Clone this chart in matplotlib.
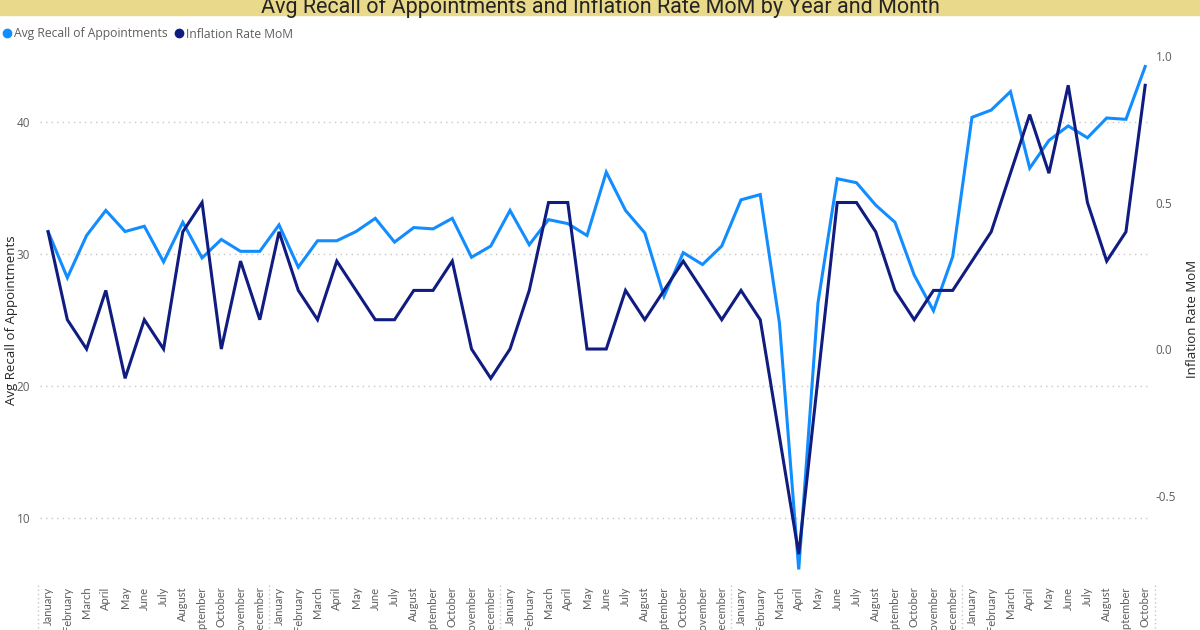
import matplotlib
matplotlib.use("Agg")
import matplotlib.pyplot as plt
from matplotlib.lines import Line2D
import numpy as np

# month labels, 4 full years + Jan..Oct of the fifth
months = ["January", "February", "March", "April", "May", "June", "July",
          "August", "September", "October", "November", "December"]
month_labels = months * 4 + months[:10]

avg_recall = [
    31.7, 28.2, 31.4, 33.3, 31.7, 32.1, 29.4, 32.4, 29.7, 31.1, 30.2, 30.2,
    32.2, 29.0, 31.0, 31.0, 31.7, 32.7, 30.9, 32.0, 31.9, 32.7, 29.75, 30.6,
    33.3, 30.7, 32.6, 32.3, 31.4, 36.2, 33.3, 31.6, 26.8, 30.1, 29.2, 30.6,
    34.1, 34.5, 24.75, 6.1, 26.3, 35.7, 35.4, 33.7, 32.4, 28.4, 25.7, 29.8,
    40.35, 40.9, 42.3, 36.5, 38.6, 39.7, 38.8, 40.3, 40.2, 44.2,
]
inflation_mom = [
    0.4, 0.1, 0.0, 0.2, -0.1, 0.1, 0.0, 0.4, 0.5, 0.0, 0.3, 0.1,
    0.4, 0.2, 0.1, 0.3, 0.2, 0.1, 0.1, 0.2, 0.2, 0.3, 0.0, -0.1,
    0.0, 0.2, 0.5, 0.5, 0.0, 0.0, 0.2, 0.1, 0.2, 0.3, 0.2, 0.1,
    0.2, 0.1, -0.3, -0.7, -0.1, 0.5, 0.5, 0.4, 0.2, 0.1, 0.2, 0.2,
    0.3, 0.4, 0.6, 0.8, 0.6, 0.9, 0.5, 0.3, 0.4, 0.9,
]
year_breaks = [-0.5, 11.5, 23.5, 35.5, 47.5, 57.5]

light = "#118DFF"
dark = "#101C80"
grey = "#605E5C"
font = "Open Sans"

fig = plt.figure(figsize=(12, 6.3), dpi=100)
W, H = 1200, 630

# title band
fig.patches.append(plt.Rectangle((0, 1 - 15 / H), 1, 15 / H, transform=fig.transFigure,
                                 color="#E9D98A", zorder=0))
fig.text(0.5, 1 - 13 / H, "Avg Recall of Appointments and Inflation Rate MoM by Year and Month",
         ha="center", va="baseline", fontsize=15.5, color="#252423", family="Roboto")

left, right, top, bottom = 40, 1150, 45, 577
ax = fig.add_axes([left / W, 1 - bottom / H, (right - left) / W, (bottom - top) / H])
ax2 = ax.twinx()

x = np.arange(len(month_labels))
ax.plot(x, avg_recall, color=light, lw=2.2, solid_joinstyle="miter", zorder=3)
ax2.plot(x, inflation_mom, color=dark, lw=2.2, solid_joinstyle="miter", zorder=3)

ax.set_xlim(-0.42, 57.25)
ax.set_ylim(5.53, 45.83)
ax2.set_ylim(-0.778, 1.0375)

ax.set_yticks([10, 20, 30, 40])
ax2.set_yticks([-0.5, 0.0, 0.5, 1.0])
ax2.set_yticklabels(["-0.5", "0.0", "0.5", "1.0"])
ax.yaxis.grid(True, color="#C8C6C4", linestyle=(0, (1, 3)), lw=1)

ax.set_xticks(x)
ax.set_xticklabels(month_labels, rotation=90, va="top", ha="center",
                   fontsize=8, color=grey, family="Lato")
ax.tick_params(axis="x", length=0, pad=7)
ax.tick_params(axis="y", length=0, pad=7, labelsize=8.5, labelcolor=grey)
ax2.tick_params(axis="y", length=0, pad=4, labelsize=8.5, labelcolor=grey)
for lab in ax.get_yticklabels() + ax2.get_yticklabels():
    lab.set_family(font)

for a in (ax, ax2):
    for s in a.spines.values():
        s.set_visible(False)

# dotted year separators under the axis
for b in year_breaks:
    ax.plot([b, b], [-0.015, -0.12], transform=ax.get_xaxis_transform(),
            color="#C8C6C4", linestyle=(0, (1, 2)), lw=1, clip_on=False)

fig.text(12 / W, 1 - 320 / H, "Avg Recall of Appointments", rotation=90,
         ha="center", va="center", fontsize=9.5, color="#252423", family=font)
fig.text(1192 / W, 1 - 319 / H, "Inflation Rate MoM", rotation=90,
         ha="center", va="center", fontsize=9.5, color="#252423", family=font)

handles = [Line2D([], [], marker="o", ls="", color=light, markersize=6),
           Line2D([], [], marker="o", ls="", color=dark, markersize=6)]
fig.legend(handles, ["Avg Recall of Appointments", "Inflation Rate MoM"],
           loc="center left", bbox_to_anchor=(3 / W, 1 - 34 / H), ncol=2, frameon=False,
           handlelength=0.5, handletextpad=0.3, columnspacing=0.7, borderaxespad=0,
           borderpad=0.1, prop={"family": font, "size": 8.7}, labelcolor=grey)

fig.savefig("out.png", dpi=100)
